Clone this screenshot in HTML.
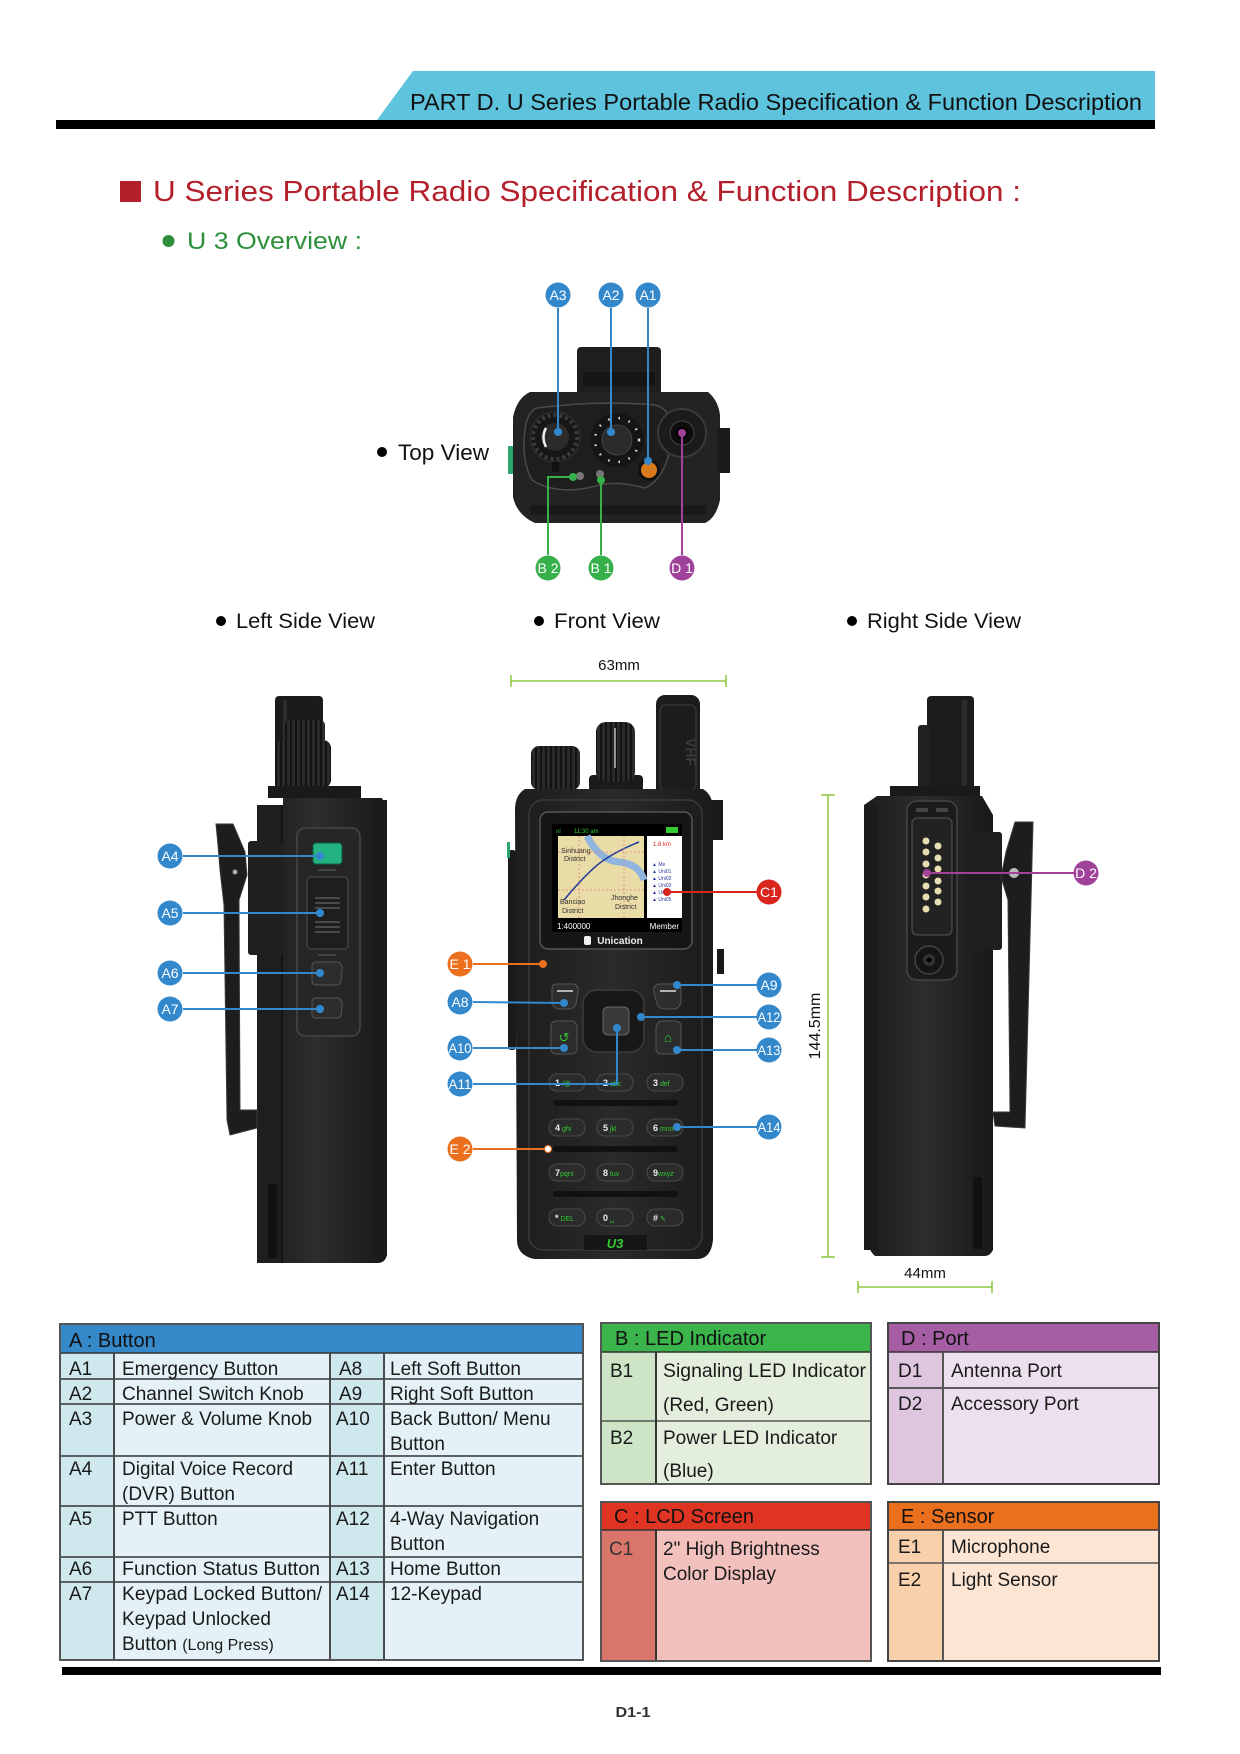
<!DOCTYPE html>
<html><head><meta charset="utf-8"><style>
html,body{margin:0;padding:0;background:#fff;}
svg{display:block;}
text{font-family:"Liberation Sans",sans-serif;}
</style></head><body>
<svg width="1240" height="1754" viewBox="0 0 1240 1754" xmlns="http://www.w3.org/2000/svg">
<defs>
<linearGradient id="bodyg" x1="0" x2="1" y1="0" y2="0"><stop offset="0" stop-color="#1b1b1b"/><stop offset="0.45" stop-color="#2d2d2d"/><stop offset="1" stop-color="#191919"/></linearGradient>
<linearGradient id="frontg" x1="0" x2="1" y1="0" y2="0"><stop offset="0" stop-color="#1d1d1d"/><stop offset="0.5" stop-color="#2a2a2a"/><stop offset="1" stop-color="#1b1b1b"/></linearGradient>
<pattern id="ridge" width="5" height="10" patternUnits="userSpaceOnUse"><rect width="5" height="10" fill="#2a2a2a"/><rect width="2" height="10" fill="#121212"/></pattern>
</defs>

<!-- ===== Header ===== -->
<polygon points="413,71 1155,71 1155,120 377,120" fill="#5ec4de"/>
<rect x="56" y="120" width="1099" height="9" fill="#000"/>
<text x="410" y="110" font-size="23" textLength="732" lengthAdjust="spacingAndGlyphs" fill="#111">PART D. U Series Portable Radio Specification &amp; Function Description</text>

<rect x="120" y="181" width="21" height="21" fill="#b3202c"/>
<text x="153" y="201" font-size="29" textLength="868" lengthAdjust="spacingAndGlyphs" fill="#b3202c">U Series Portable Radio Specification &amp; Function Description :</text>

<circle cx="168.5" cy="241" r="6" fill="#2d8f3c"/>
<text x="187" y="249" font-size="24" textLength="175" lengthAdjust="spacingAndGlyphs" fill="#2d8f3c">U 3 Overview :</text>

<!-- ===== Top view ===== -->
<circle cx="382" cy="452" r="5" fill="#000"/>
<text x="398" y="460" font-size="22" textLength="91" lengthAdjust="spacingAndGlyphs" fill="#111">Top View</text>

<rect x="577" y="347" width="84" height="50" rx="4" fill="#1e1e1e"/>
<rect x="583" y="372" width="72" height="14" fill="#151515"/>
<path d="M530,392 L708,392 Q718,400 720,415 L720,500 Q716,518 705,523 L535,523 Q517,515 513,497 L513,417 Q517,398 530,392 Z" fill="#232323"/>
<rect x="508" y="446" width="5" height="28" fill="#2aa56b"/>
<rect x="718" y="428" width="12" height="45" fill="#1a1a1a"/>
<rect x="530" y="505" width="176" height="10" fill="#1a1a1a"/>
<path d="M537,408 Q597,400 655,405 Q675,410 671,440 Q667,478 645,488 Q615,480 596,486 Q557,496 532,480 Q521,460 525,430 Q527,412 537,408 Z" fill="#1e1e1e" stroke="#4a4a4a" stroke-width="1.5"/>
<circle cx="555" cy="437" r="25" fill="#171717" stroke="#333" stroke-width="1"/>
<circle cx="555" cy="437" r="22" fill="none" stroke="#3a3a3a" stroke-width="4" stroke-dasharray="3 3"/>
<circle cx="555" cy="437" r="14" fill="#2b2b2b"/>
<path d="M546,428 Q541,437 546,447" stroke="#eee" stroke-width="2.5" fill="none"/>
<rect x="552" y="462" width="7" height="10" fill="#111"/>
<circle cx="617" cy="440" r="27" fill="#151515"/>
<circle cx="617" cy="440" r="22" fill="none" stroke="#ddd" stroke-width="2.5" stroke-dasharray="1.5 9"/>
<circle cx="617" cy="440" r="15" fill="#2b2b2b" stroke="#444"/>
<circle cx="649" cy="470" r="11" fill="#111"/>
<circle cx="649" cy="470" r="8" fill="#d97a1c"/>
<circle cx="682" cy="433" r="24" fill="#1b1b1b" stroke="#3a3a3a" stroke-width="2"/>
<circle cx="682" cy="433" r="12" fill="#0d0d0d" stroke="#444"/>
<circle cx="682" cy="433" r="6" fill="#000"/>
<circle cx="580" cy="476" r="4" fill="#777"/>
<circle cx="600" cy="474" r="4" fill="#777"/>

<!-- top view callouts -->
<g stroke-width="2" fill="none">
<path d="M558,308 L558,432" stroke="#3388cc"/>
<path d="M611,308 L611,432" stroke="#3388cc"/>
<path d="M648,308 L648,461" stroke="#3388cc"/>
<path d="M548,555 L548,477 L573,477" stroke="#36b04b"/>
<path d="M601,555 L601,480" stroke="#36b04b"/>
<path d="M682,555 L682,433" stroke="#a0429a"/>
</g>
<g>
<circle cx="558" cy="432" r="4" fill="#3388cc"/><circle cx="611" cy="432" r="4" fill="#3388cc"/><circle cx="648" cy="461" r="4" fill="#3388cc"/>
<circle cx="573" cy="477" r="4" fill="#36b04b"/><circle cx="601" cy="480" r="4" fill="#36b04b"/><circle cx="682" cy="433" r="4" fill="#a0429a"/>
</g>
<g font-size="14" fill="#fff" text-anchor="middle">
<circle cx="558" cy="295" r="12.5" fill="#3388cc"/><text x="558" y="300" fill="#fff">A3</text>
<circle cx="611" cy="295" r="12.5" fill="#3388cc"/><text x="611" y="300" fill="#fff">A2</text>
<circle cx="648" cy="295" r="12.5" fill="#3388cc"/><text x="648" y="300" fill="#fff">A1</text>
<circle cx="548" cy="568" r="12.5" fill="#36b04b"/><text x="548" y="573" fill="#fff">B 2</text>
<circle cx="601" cy="568" r="12.5" fill="#36b04b"/><text x="601" y="573" fill="#fff">B 1</text>
<circle cx="682" cy="568" r="12.5" fill="#a0429a"/><text x="682" y="573" fill="#fff">D 1</text>
</g>

<!-- ===== View titles ===== -->
<circle cx="221" cy="621" r="5" fill="#000"/>
<text x="236" y="628" font-size="21" textLength="139" lengthAdjust="spacingAndGlyphs" fill="#111">Left Side View</text>
<circle cx="539" cy="621" r="5" fill="#000"/>
<text x="554" y="628" font-size="21" textLength="106" lengthAdjust="spacingAndGlyphs" fill="#111">Front View</text>
<circle cx="852" cy="621" r="5" fill="#000"/>
<text x="867" y="628" font-size="21" textLength="154" lengthAdjust="spacingAndGlyphs" fill="#111">Right Side View</text>

<!-- ===== Left side view ===== -->
<rect x="275" y="696" width="48" height="95" rx="4" fill="#1b1b1b"/>
<rect x="283" y="700" width="4" height="40" fill="#2e2e2e"/>
<rect x="285" y="720" width="40" height="24" rx="5" fill="url(#ridge)"/>
<rect x="275" y="740" width="56" height="48" rx="8" fill="url(#ridge)"/>
<rect x="268" y="786" width="93" height="12" fill="#1a1a1a"/>
<path d="M283,798 L382,798 L387,810 L387,1255 Q385,1263 378,1263 L262,1263 Q257,1263 257,1255 L257,812 Q257,805 265,805 L283,805 Z" fill="url(#bodyg)"/>
<rect x="257" y="805" width="25" height="458" fill="#1e1e1e"/>
<line x1="282" y1="805" x2="282" y2="1263" stroke="#111" stroke-width="1.5"/>
<rect x="373" y="800" width="14" height="455" fill="#1b1b1b"/>
<rect x="268" y="1184" width="9" height="74" fill="#111"/>
<rect x="248" y="841" width="35" height="114" rx="3" fill="#202020"/>
<polygon points="216,824 233,824 245,852 247,875 239,900 240,1110 257,1110 257,1128 230,1135 227,1120 224,905 220,870 218,845" fill="#1d1d1d" stroke="#3a3a3a" stroke-width="1"/>
<circle cx="235" cy="872" r="2.5" fill="#aaa"/>
<rect x="297" y="828" width="63" height="208" rx="8" fill="#262626" stroke="#474747" stroke-width="1.5"/>
<rect x="313" y="843" width="29" height="21" rx="3" fill="#23b383" stroke="#0f5f44"/>
<line x1="318" y1="870" x2="336" y2="870" stroke="#444" stroke-width="2"/>
<rect x="307" y="877" width="41" height="72" rx="4" fill="#1e1e1e" stroke="#505050"/>
<g stroke="#4a4a4a" stroke-width="2"><line x1="315" y1="898" x2="340" y2="898"/><line x1="315" y1="903" x2="340" y2="903"/><line x1="315" y1="908" x2="340" y2="908"/><line x1="315" y1="922" x2="340" y2="922"/><line x1="315" y1="927" x2="340" y2="927"/><line x1="315" y1="932" x2="340" y2="932"/></g>
<line x1="318" y1="955" x2="336" y2="955" stroke="#444" stroke-width="2"/>
<path d="M316,962 L338,962 Q343,964 342,970 L341,982 Q340,985 336,985 L316,985 Q312,985 312,981 L312,967 Q312,962 316,962 Z" fill="#2d2d2d" stroke="#555"/>
<path d="M316,998 L338,998 Q343,1000 342,1006 L341,1015 Q340,1018 336,1018 L316,1018 Q312,1018 312,1014 L312,1002 Q312,998 316,998 Z" fill="#2d2d2d" stroke="#555"/>

<g stroke="#3388cc" stroke-width="2">
<line x1="183" y1="856" x2="320" y2="856"/>
<line x1="183" y1="913" x2="320" y2="913"/>
<line x1="183" y1="973" x2="320" y2="973"/>
<line x1="183" y1="1009" x2="320" y2="1009"/>
</g>
<g fill="#3388cc"><circle cx="320" cy="856" r="4"/><circle cx="320" cy="913" r="4"/><circle cx="320" cy="973" r="4"/><circle cx="320" cy="1009" r="4"/></g>
<g font-size="14" text-anchor="middle">
<circle cx="170" cy="856" r="12.5" fill="#3388cc"/><text x="170" y="861" fill="#fff">A4</text>
<circle cx="170" cy="913" r="12.5" fill="#3388cc"/><text x="170" y="918" fill="#fff">A5</text>
<circle cx="170" cy="973" r="12.5" fill="#3388cc"/><text x="170" y="978" fill="#fff">A6</text>
<circle cx="170" cy="1009" r="12.5" fill="#3388cc"/><text x="170" y="1014" fill="#fff">A7</text>
</g>

<!-- ===== Dimensions ===== -->
<g stroke="#8dc63f" stroke-width="1.5">
<line x1="511" y1="681" x2="726" y2="681"/><line x1="511" y1="675" x2="511" y2="687"/><line x1="726" y1="675" x2="726" y2="687"/>
<line x1="828" y1="795" x2="828" y2="1257"/><line x1="821" y1="795" x2="835" y2="795"/><line x1="821" y1="1257" x2="835" y2="1257"/>
<line x1="858" y1="1287" x2="992" y2="1287"/><line x1="858" y1="1281" x2="858" y2="1293"/><line x1="992" y1="1281" x2="992" y2="1293"/>
</g>
<text x="619" y="670" font-size="15" text-anchor="middle" fill="#111">63mm</text>
<text transform="translate(820,1026) rotate(-90)" font-size="16" text-anchor="middle" fill="#111">144.5mm</text>
<text x="925" y="1278" font-size="15" text-anchor="middle" fill="#111">44mm</text>

<!-- ===== Front view ===== -->
<rect x="656" y="695" width="44" height="105" rx="9" fill="#1c1c1c"/>
<rect x="660" y="705" width="36" height="85" rx="6" fill="none" stroke="#333" stroke-width="1.5"/>
<text transform="translate(686,752) rotate(90)" font-size="14" font-weight="bold" text-anchor="middle" fill="#3a3a3a">VHF</text>
<rect x="531" y="746" width="49" height="44" rx="8" fill="url(#ridge)"/>
<rect x="589" y="775" width="54" height="17" rx="4" fill="#1b1b1b"/>
<rect x="596" y="722" width="39" height="60" rx="10" fill="url(#ridge)"/>
<line x1="615" y1="728" x2="615" y2="768" stroke="#bbb" stroke-width="1.5"/>
<path d="M525,789 L703,789 Q713,795 713,810 L713,1240 Q711,1259 697,1259 L534,1259 Q517,1255 517,1240 L515,810 Q515,795 525,789 Z" fill="url(#frontg)"/>
<rect x="508" y="850" width="8" height="200" rx="3" fill="#1a1a1a"/>
<rect x="507" y="842" width="3" height="16" fill="#2aa56b"/>
<rect x="711" y="800" width="12" height="40" fill="#1a1a1a"/>
<rect x="717" y="949" width="7" height="25" fill="#1a1a1a"/>
<rect x="529" y="800" width="173" height="450" rx="14" fill="none" stroke="#3a3a3a" stroke-width="1.5"/>
<rect x="540" y="812" width="152" height="137" rx="8" fill="#161616" stroke="#555" stroke-width="1.5"/>
<rect x="552" y="824" width="130" height="108" fill="#000"/>
<text x="556" y="833" font-size="6" fill="#3c3">ııl</text>
<text x="574" y="833" font-size="6" fill="#3c3">11:30 am</text>
<rect x="666" y="827" width="12" height="6" fill="#3c3"/>
<rect x="558" y="836" width="86" height="82" fill="#e9dca6"/>
<path d="M587,836 Q599,860 619,862 Q639,864 644,880" stroke="#8fb4de" stroke-width="7" fill="none"/>
<path d="M564,900 Q589,870 604,860 Q619,850 639,842" stroke="#1e3c9c" stroke-width="1.5" fill="none"/>
<path d="M558,852 L644,852 M558,890 L644,890 M579,836 L579,918 M624,836 L624,918" stroke="#e38080" stroke-width="0.8" stroke-dasharray="2 2"/>
<text x="561" y="853" font-size="7" fill="#333">Sinhuang</text>
<text x="564" y="861" font-size="7" fill="#333">District</text>
<text x="560" y="904" font-size="7" fill="#333">Banciao</text>
<text x="562" y="913" font-size="7" fill="#333">District</text>
<text x="611" y="900" font-size="7" fill="#333">Jhonghe</text>
<text x="615" y="909" font-size="7" fill="#333">District</text>
<rect x="647" y="836" width="35" height="82" fill="#fff"/>
<text x="653" y="846" font-size="6" fill="#d22">1.6 km</text>
<g fill="#2a3aa0" font-size="5"><text x="652" y="866">▲ Me</text><text x="652" y="873">▲ Uni01</text><text x="652" y="880">▲ Uni02</text><text x="652" y="887">▲ Uni03</text><text x="652" y="894">▲ Uni04</text><text x="652" y="901">▲ Uni05</text></g>
<text x="557" y="929" font-size="8" fill="#fff">1:400000</text>
<text x="679" y="929" font-size="8" fill="#fff" text-anchor="end">Member</text>
<text x="620" y="944" font-size="10" font-weight="bold" fill="#eee" text-anchor="middle">Unication</text>
<rect x="584" y="936" width="7" height="9" rx="2" fill="#eee"/>
<rect x="539" y="960" width="8" height="6" rx="2" fill="#111"/>

<path d="M556,984 L574,984 Q579,986 578,992 L576,1004 Q574,1009 568,1009 L558,1009 Q552,1007 552,1000 L552,989 Q552,984 556,984 Z" fill="#2e2e2e" stroke="#555"/>
<line x1="557" y1="991" x2="573" y2="991" stroke="#ddd" stroke-width="1.5"/>
<path d="M658,984 L676,984 Q681,984 681,989 L681,1000 Q681,1007 675,1009 L665,1009 Q659,1009 657,1004 L654,992 Q653,986 658,984 Z" fill="#2e2e2e" stroke="#555"/>
<line x1="660" y1="991" x2="676" y2="991" stroke="#ddd" stroke-width="1.5"/>
<rect x="583" y="990" width="61" height="62" rx="14" fill="#181818" stroke="#3c3c3c" stroke-width="1.5"/>
<rect x="603" y="1007" width="26" height="28" rx="5" fill="#3a3a3a" stroke="#666"/>
<path d="M557,1021 L573,1021 Q577,1023 577,1028 L577,1048 Q577,1054 571,1054 L557,1054 Q551,1054 551,1048 L551,1027 Q551,1021 557,1021 Z" fill="#2c2c2c" stroke="#555"/>
<text x="564" y="1042" font-size="13" fill="#3c3" text-anchor="middle">↺</text>
<path d="M661,1021 L675,1021 Q681,1021 681,1027 L681,1048 Q681,1054 675,1054 L662,1054 Q656,1054 656,1048 L656,1028 Q656,1023 661,1021 Z" fill="#2c2c2c" stroke="#555"/>
<text x="668" y="1042" font-size="13" fill="#3c3" text-anchor="middle">⌂</text>

<g fill="#2b2b2b" stroke="#4a4a4a">
<rect x="549" y="1074" width="36" height="17" rx="8"/><rect x="597" y="1074" width="36" height="17" rx="8"/><rect x="647" y="1074" width="36" height="17" rx="8"/>
<rect x="549" y="1119" width="36" height="17" rx="8"/><rect x="597" y="1119" width="36" height="17" rx="8"/><rect x="647" y="1119" width="36" height="17" rx="8"/>
<rect x="549" y="1164" width="36" height="17" rx="8"/><rect x="597" y="1164" width="36" height="17" rx="8"/><rect x="647" y="1164" width="36" height="17" rx="8"/>
<rect x="549" y="1209" width="36" height="17" rx="8"/><rect x="597" y="1209" width="36" height="17" rx="8"/><rect x="647" y="1209" width="36" height="17" rx="8"/>
</g>
<g fill="#111"><rect x="553" y="1100" width="125" height="6" rx="3"/><rect x="553" y="1146" width="125" height="6" rx="3"/><rect x="553" y="1191" width="125" height="6" rx="3"/></g>
<g font-size="9" font-weight="bold" fill="#eee">
<text x="555" y="1086">1<tspan fill="#3c3" font-size="7" font-weight="normal"> /@</tspan></text>
<text x="603" y="1086">2<tspan fill="#3c3" font-size="7" font-weight="normal"> abc</tspan></text>
<text x="653" y="1086">3<tspan fill="#3c3" font-size="7" font-weight="normal"> def</tspan></text>
<text x="555" y="1131">4<tspan fill="#3c3" font-size="7" font-weight="normal"> ghi</tspan></text>
<text x="603" y="1131">5<tspan fill="#3c3" font-size="7" font-weight="normal"> jkl</tspan></text>
<text x="653" y="1131">6<tspan fill="#3c3" font-size="7" font-weight="normal"> mno</tspan></text>
<text x="555" y="1176">7<tspan fill="#3c3" font-size="7" font-weight="normal">pqrs</tspan></text>
<text x="603" y="1176">8<tspan fill="#3c3" font-size="7" font-weight="normal"> tuv</tspan></text>
<text x="653" y="1176">9<tspan fill="#3c3" font-size="7" font-weight="normal">wxyz</tspan></text>
<text x="555" y="1221">*<tspan fill="#3c3" font-size="7" font-weight="normal"> DEL</tspan></text>
<text x="603" y="1221">0<tspan fill="#3c3" font-size="7" font-weight="normal"> ␣</tspan></text>
<text x="653" y="1221">#<tspan fill="#3c3" font-size="7" font-weight="normal"> ✎</tspan></text>
</g>
<rect x="584" y="1235" width="63" height="15" fill="#161616"/>
<text x="615" y="1248" font-size="13" font-weight="bold" font-style="italic" fill="#3c3" text-anchor="middle">U3</text>

<!-- front callouts -->
<g stroke-width="2" fill="none">
<line x1="667" y1="892" x2="757" y2="892" stroke="#d9261c"/>
<line x1="473" y1="964" x2="543" y2="964" stroke="#ec6f1d"/>
<line x1="473" y1="1002" x2="564" y2="1003" stroke="#3388cc"/>
<line x1="677" y1="985" x2="757" y2="985" stroke="#3388cc"/>
<line x1="641" y1="1017" x2="757" y2="1017" stroke="#3388cc"/>
<line x1="473" y1="1048" x2="564" y2="1048" stroke="#3388cc"/>
<line x1="677" y1="1050" x2="757" y2="1050" stroke="#3388cc"/>
<path d="M473,1084 L617,1084 L617,1028" stroke="#3388cc"/>
<line x1="677" y1="1127" x2="757" y2="1127" stroke="#3388cc"/>
<line x1="473" y1="1149" x2="548" y2="1149" stroke="#ec6f1d"/>
</g>
<circle cx="667" cy="892" r="4" fill="#d9261c"/>
<circle cx="543" cy="964" r="4" fill="#ec6f1d"/>
<g fill="#3388cc"><circle cx="564" cy="1003" r="4"/><circle cx="677" cy="985" r="4"/><circle cx="641" cy="1017" r="4"/><circle cx="564" cy="1048" r="4"/><circle cx="677" cy="1050" r="4"/><circle cx="617" cy="1028" r="4"/><circle cx="677" cy="1127" r="4"/></g>
<circle cx="548" cy="1149" r="3.5" fill="#fff" stroke="#ec6f1d"/>
<g font-size="14" text-anchor="middle">
<circle cx="769" cy="892" r="12.5" fill="#d9261c"/><text x="769" y="897" fill="#fff">C1</text>
<circle cx="460" cy="964" r="12.5" fill="#ec6f1d"/><text x="460" y="969" fill="#fff">E 1</text>
<circle cx="460" cy="1002" r="12.5" fill="#3388cc"/><text x="460" y="1007" fill="#fff">A8</text>
<circle cx="769" cy="985" r="12.5" fill="#3388cc"/><text x="769" y="990" fill="#fff">A9</text>
<circle cx="769" cy="1017" r="12.5" fill="#3388cc"/><text x="769" y="1022" fill="#fff" textLength="23" lengthAdjust="spacingAndGlyphs">A12</text>
<circle cx="460" cy="1048" r="12.5" fill="#3388cc"/><text x="460" y="1053" fill="#fff" textLength="23" lengthAdjust="spacingAndGlyphs">A10</text>
<circle cx="769" cy="1050" r="12.5" fill="#3388cc"/><text x="769" y="1055" fill="#fff" textLength="23" lengthAdjust="spacingAndGlyphs">A13</text>
<circle cx="460" cy="1084" r="12.5" fill="#3388cc"/><text x="460" y="1089" fill="#fff" textLength="23" lengthAdjust="spacingAndGlyphs">A11</text>
<circle cx="769" cy="1127" r="12.5" fill="#3388cc"/><text x="769" y="1132" fill="#fff" textLength="23" lengthAdjust="spacingAndGlyphs">A14</text>
<circle cx="460" cy="1149" r="12.5" fill="#ec6f1d"/><text x="460" y="1154" fill="#fff">E 2</text>
</g>

<!-- ===== Right side view ===== -->
<rect x="927" y="696" width="47" height="100" rx="4" fill="#1c1c1c"/>
<rect x="962" y="700" width="5" height="90" fill="#2c2c2c"/>
<rect x="918" y="725" width="12" height="66" rx="3" fill="#222"/>
<rect x="890" y="786" width="90" height="12" fill="#1a1a1a"/>
<path d="M877,796 L982,796 L993,815 L993,1250 Q990,1256 985,1256 L875,1256 Q868,1250 868,1240 L864,805 Z" fill="url(#bodyg)"/>
<rect x="864" y="805" width="14" height="445" fill="#1b1b1b"/>
<rect x="967" y="832" width="35" height="118" rx="3" fill="#1e1e1e"/>
<rect x="973" y="1177" width="9" height="72" fill="#111"/>
<rect x="907" y="801" width="50" height="179" rx="10" fill="#1b1b1b" stroke="#444" stroke-width="1.5"/>
<rect x="916" y="808" width="12" height="4" fill="#444"/><rect x="936" y="808" width="12" height="4" fill="#444"/>
<rect x="912" y="818" width="40" height="117" rx="5" fill="#222" stroke="#555"/>
<g fill="#e6ddb0">
<circle cx="926" cy="841" r="3.5"/><circle cx="926" cy="852" r="3.5"/><circle cx="926" cy="864" r="3.5"/><circle cx="926" cy="875" r="3.5"/><circle cx="926" cy="886" r="3.5"/><circle cx="926" cy="897" r="3.5"/><circle cx="926" cy="909" r="3.5"/>
<circle cx="938" cy="846" r="3.5"/><circle cx="938" cy="858" r="3.5"/><circle cx="938" cy="869" r="3.5"/><circle cx="938" cy="881" r="3.5"/><circle cx="938" cy="891" r="3.5"/><circle cx="938" cy="902" r="3.5"/>
</g>
<circle cx="929" cy="960" r="14" fill="#151515" stroke="#444" stroke-width="1.5"/>
<circle cx="929" cy="960" r="6" fill="#333"/>
<circle cx="929" cy="960" r="2.5" fill="#000"/>
<polygon points="1015,822 1033,822 1031,900 1025,1128 995,1126 993,1112 1010,1112 1008,900 1001,877 1006,852" fill="#1d1d1d" stroke="#3a3a3a" stroke-width="1"/>
<circle cx="1014" cy="873" r="5" fill="#bbb"/>
<line x1="927" y1="873" x2="1074" y2="873" stroke="#a0429a" stroke-width="2"/>
<circle cx="927" cy="873" r="4" fill="#a0429a"/>
<circle cx="1086" cy="873" r="12.5" fill="#a0429a"/>
<text x="1086" y="878" font-size="14" text-anchor="middle" fill="#fff">D 2</text>

<!-- ===== Tables ===== -->
<!-- Table A -->
<rect x="60" y="1324" width="523" height="336" fill="#e4f2f7"/>
<rect x="60" y="1353" width="54" height="307" fill="#cfe8ee"/>
<rect x="330" y="1353" width="54" height="307" fill="#cfe8ee"/>
<rect x="60" y="1324" width="523" height="29" fill="#3589c9"/>
<g stroke="#333" stroke-width="1.5">
<line x1="60" y1="1353" x2="583" y2="1353"/>
<line x1="60" y1="1379" x2="583" y2="1379"/>
<line x1="60" y1="1404" x2="583" y2="1404"/>
<line x1="60" y1="1456" x2="583" y2="1456"/>
<line x1="60" y1="1506" x2="583" y2="1506"/>
<line x1="60" y1="1557" x2="583" y2="1557"/>
<line x1="60" y1="1582" x2="583" y2="1582"/>
</g>
<g stroke="#4a4a4a" stroke-width="2">
<line x1="114" y1="1353" x2="114" y2="1660"/>
<line x1="330" y1="1353" x2="330" y2="1660"/>
<line x1="384" y1="1353" x2="384" y2="1660"/>
</g>
<rect x="60" y="1324" width="523" height="336" fill="none" stroke="#555" stroke-width="2"/>
<text x="69" y="1347" font-size="20" fill="#111">A : Button</text>
<g font-size="19" fill="#1a1a1a">
<text x="69" y="1375">A1</text><text x="122" y="1375">Emergency Button</text><text x="339" y="1375">A8</text><text x="390" y="1375">Left Soft Button</text>
<text x="69" y="1400">A2</text><text x="122" y="1400">Channel Switch Knob</text><text x="339" y="1400">A9</text><text x="390" y="1400">Right Soft Button</text>
<text x="69" y="1425">A3</text><text x="122" y="1425">Power &amp; Volume Knob</text><text x="336" y="1425">A10</text><text x="390" y="1425">Back Button/ Menu</text><text x="390" y="1450">Button</text>
<text x="69" y="1475">A4</text><text x="122" y="1475">Digital Voice Record</text><text x="122" y="1500">(DVR) Button</text><text x="336" y="1475">A11</text><text x="390" y="1475">Enter Button</text>
<text x="69" y="1525">A5</text><text x="122" y="1525">PTT Button</text><text x="336" y="1525">A12</text><text x="390" y="1525">4-Way Navigation</text><text x="390" y="1550">Button</text>
<text x="69" y="1575">A6</text><text x="122" y="1575" textLength="198" lengthAdjust="spacingAndGlyphs">Function Status Button</text><text x="336" y="1575">A13</text><text x="390" y="1575">Home Button</text>
<text x="69" y="1600">A7</text><text x="122" y="1600" textLength="200" lengthAdjust="spacingAndGlyphs">Keypad Locked Button/</text><text x="122" y="1625">Keypad Unlocked</text><text x="122" y="1650">Button <tspan font-size="16">(Long Press)</tspan></text><text x="336" y="1600">A14</text><text x="390" y="1600">12-Keypad</text>
</g>

<!-- Table B -->
<rect x="601" y="1323" width="270" height="161" fill="#e3eedd"/>
<rect x="601" y="1352" width="55" height="132" fill="#cde4c6"/>
<rect x="601" y="1323" width="270" height="29" fill="#3bb44b"/>
<line x1="601" y1="1352" x2="871" y2="1352" stroke="#333" stroke-width="1.5"/>
<line x1="601" y1="1421" x2="871" y2="1421" stroke="#555" stroke-width="1.5"/>
<line x1="656" y1="1352" x2="656" y2="1484" stroke="#333" stroke-width="2"/>
<rect x="601" y="1323" width="270" height="161" fill="none" stroke="#555" stroke-width="2"/>
<text x="615" y="1345" font-size="20" fill="#111">B : LED Indicator</text>
<g font-size="19" fill="#1a1a1a">
<text x="610" y="1377">B1</text><text x="663" y="1377" textLength="203" lengthAdjust="spacingAndGlyphs">Signaling LED Indicator</text><text x="663" y="1411">(Red, Green)</text>
<text x="610" y="1444">B2</text><text x="663" y="1444">Power LED Indicator</text><text x="663" y="1477">(Blue)</text>
</g>

<!-- Table D -->
<rect x="888" y="1323" width="271" height="161" fill="#ede0ee"/>
<rect x="888" y="1352" width="55" height="132" fill="#dec6de"/>
<rect x="888" y="1323" width="271" height="29" fill="#a55ea3"/>
<line x1="888" y1="1352" x2="1159" y2="1352" stroke="#333" stroke-width="1.5"/>
<line x1="888" y1="1388" x2="1159" y2="1388" stroke="#333" stroke-width="1.5"/>
<line x1="943" y1="1352" x2="943" y2="1484" stroke="#555" stroke-width="2"/>
<rect x="888" y="1323" width="271" height="161" fill="none" stroke="#444" stroke-width="2"/>
<text x="901" y="1345" font-size="20" fill="#111">D : Port</text>
<g font-size="19" fill="#1a1a1a">
<text x="898" y="1377">D1</text><text x="951" y="1377">Antenna Port</text>
<text x="898" y="1410">D2</text><text x="951" y="1410">Accessory Port</text>
</g>

<!-- Table C -->
<rect x="601" y="1502" width="270" height="159" fill="#f3c1bd"/>
<rect x="601" y="1530" width="55" height="131" fill="#d9756b"/>
<rect x="601" y="1502" width="270" height="28" fill="#e03423"/>
<line x1="601" y1="1530" x2="871" y2="1530" stroke="#333" stroke-width="1.5"/>
<line x1="656" y1="1530" x2="656" y2="1661" stroke="#333" stroke-width="2"/>
<rect x="601" y="1502" width="270" height="159" fill="none" stroke="#555" stroke-width="2"/>
<text x="614" y="1523" font-size="20" fill="#111">C : LCD Screen</text>
<g font-size="19" fill="#1a1a1a">
<text x="609" y="1555" fill="#333">C1</text><text x="663" y="1555">2" High Brightness</text><text x="663" y="1580">Color Display</text>
</g>

<!-- Table E -->
<rect x="888" y="1502" width="271" height="159" fill="#fde5d3"/>
<rect x="888" y="1530" width="55" height="131" fill="#f8d0ab"/>
<rect x="888" y="1502" width="271" height="28" fill="#eb701e"/>
<line x1="888" y1="1530" x2="1159" y2="1530" stroke="#333" stroke-width="1.5"/>
<line x1="888" y1="1563" x2="1159" y2="1563" stroke="#555" stroke-width="1.5"/>
<line x1="943" y1="1530" x2="943" y2="1661" stroke="#555" stroke-width="2"/>
<rect x="888" y="1502" width="271" height="159" fill="none" stroke="#444" stroke-width="2"/>
<text x="901" y="1523" font-size="20" fill="#111">E : Sensor</text>
<g font-size="19" fill="#1a1a1a">
<text x="898" y="1553">E1</text><text x="951" y="1553">Microphone</text>
<text x="898" y="1586">E2</text><text x="951" y="1586">Light Sensor</text>
</g>

<!-- bottom bar and page number -->
<rect x="62" y="1667" width="1099" height="8" fill="#000"/>
<text x="633" y="1717" font-size="15" font-weight="bold" text-anchor="middle" fill="#333" textLength="35" lengthAdjust="spacingAndGlyphs">D1-1</text>
</svg>
</body></html>
